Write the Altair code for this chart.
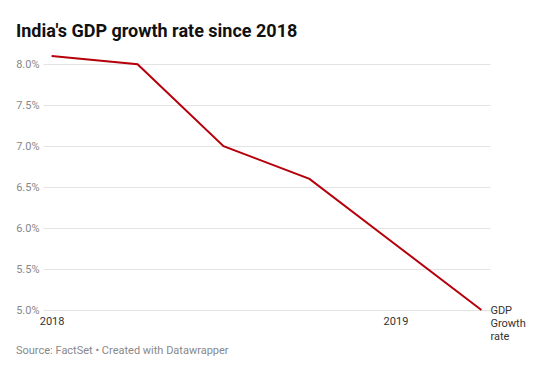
import altair as alt
import pandas as pd

quarters = ["2018 Q1", "2018 Q2", "2018 Q3", "2018 Q4", "2019 Q1", "2019 Q2"]
quarter_index = [0, 1, 2, 3, 4, 5]
growth = [8.1, 8.0, 7.0, 6.6, 5.8, 5.0]
y_ticks = [5.0, 5.5, 6.0, 6.5, 7.0, 7.5, 8.0]
x_ticks = [0, 4]
x_tick_labels = ["2018", "2019"]

df = pd.DataFrame({"quarter": quarters, "q": quarter_index, "growth": growth})
last = df.tail(1).assign(label="GDP\nGrowth\nrate")

W, H = 447, 254
FONT = "Roboto"

xlab_expr = "datum.value == 0 ? '2018' : (datum.value == 4 ? '2019' : '')"

x_enc = alt.X("q:Q", scale=alt.Scale(domain=[-0.1, 5.1], nice=False, zero=False),
              axis=alt.Axis(values=x_ticks, labelExpr=xlab_expr, title=None, grid=False,
                            domain=False, ticks=False, labelPadding=5, labelFontSize=11,
                            labelColor="#333333", labelFont=FONT))
y_enc = alt.Y("growth:Q", scale=alt.Scale(domain=[5.0, 8.1], nice=False, zero=False),
              axis=alt.Axis(values=y_ticks, labelExpr="format(datum.value, '.1f') + '%'",
                            title=None, domain=False, ticks=False, labelPadding=4,
                            labelFontSize=11, labelColor="#888888", labelFont=FONT,
                            gridColor="#e3e3e3", gridWidth=1))

line = alt.Chart(df).mark_line(color="#b5000b", strokeWidth=2).encode(x=x_enc, y=y_enc)

label = alt.Chart(last).mark_text(align="left", baseline="top", dx=9, dy=-5, lineBreak="\n",
                                  fontSize=11, font=FONT, color="#333333", lineHeight=13).encode(
    x="q:Q", y="growth:Q", text="label:N")

footer = alt.Chart(pd.DataFrame({"t": ["Source: FactSet • Created with Datawrapper"]})).mark_text(
    align="left", baseline="middle", fontSize=11, font=FONT, color="#888888").encode(
    x=alt.value(-27), y=alt.value(H + 41), text="t:N")

chart = alt.layer(line, label, footer).properties(
    width=W, height=H,
    autosize=alt.AutoSizeParams(type="none"),
    padding={"left": 35, "top": 48, "right": 52, "bottom": 60},
    title=alt.TitleParams("India's GDP growth rate since 2018", anchor="start", frame="group",
                          dx=-27, offset=11, fontSize=18, font=FONT, fontWeight="bold",
                          color="#111111"),
).configure_view(stroke=None)

chart.save("out.html", embed_options={"renderer": "svg", "actions": False})
